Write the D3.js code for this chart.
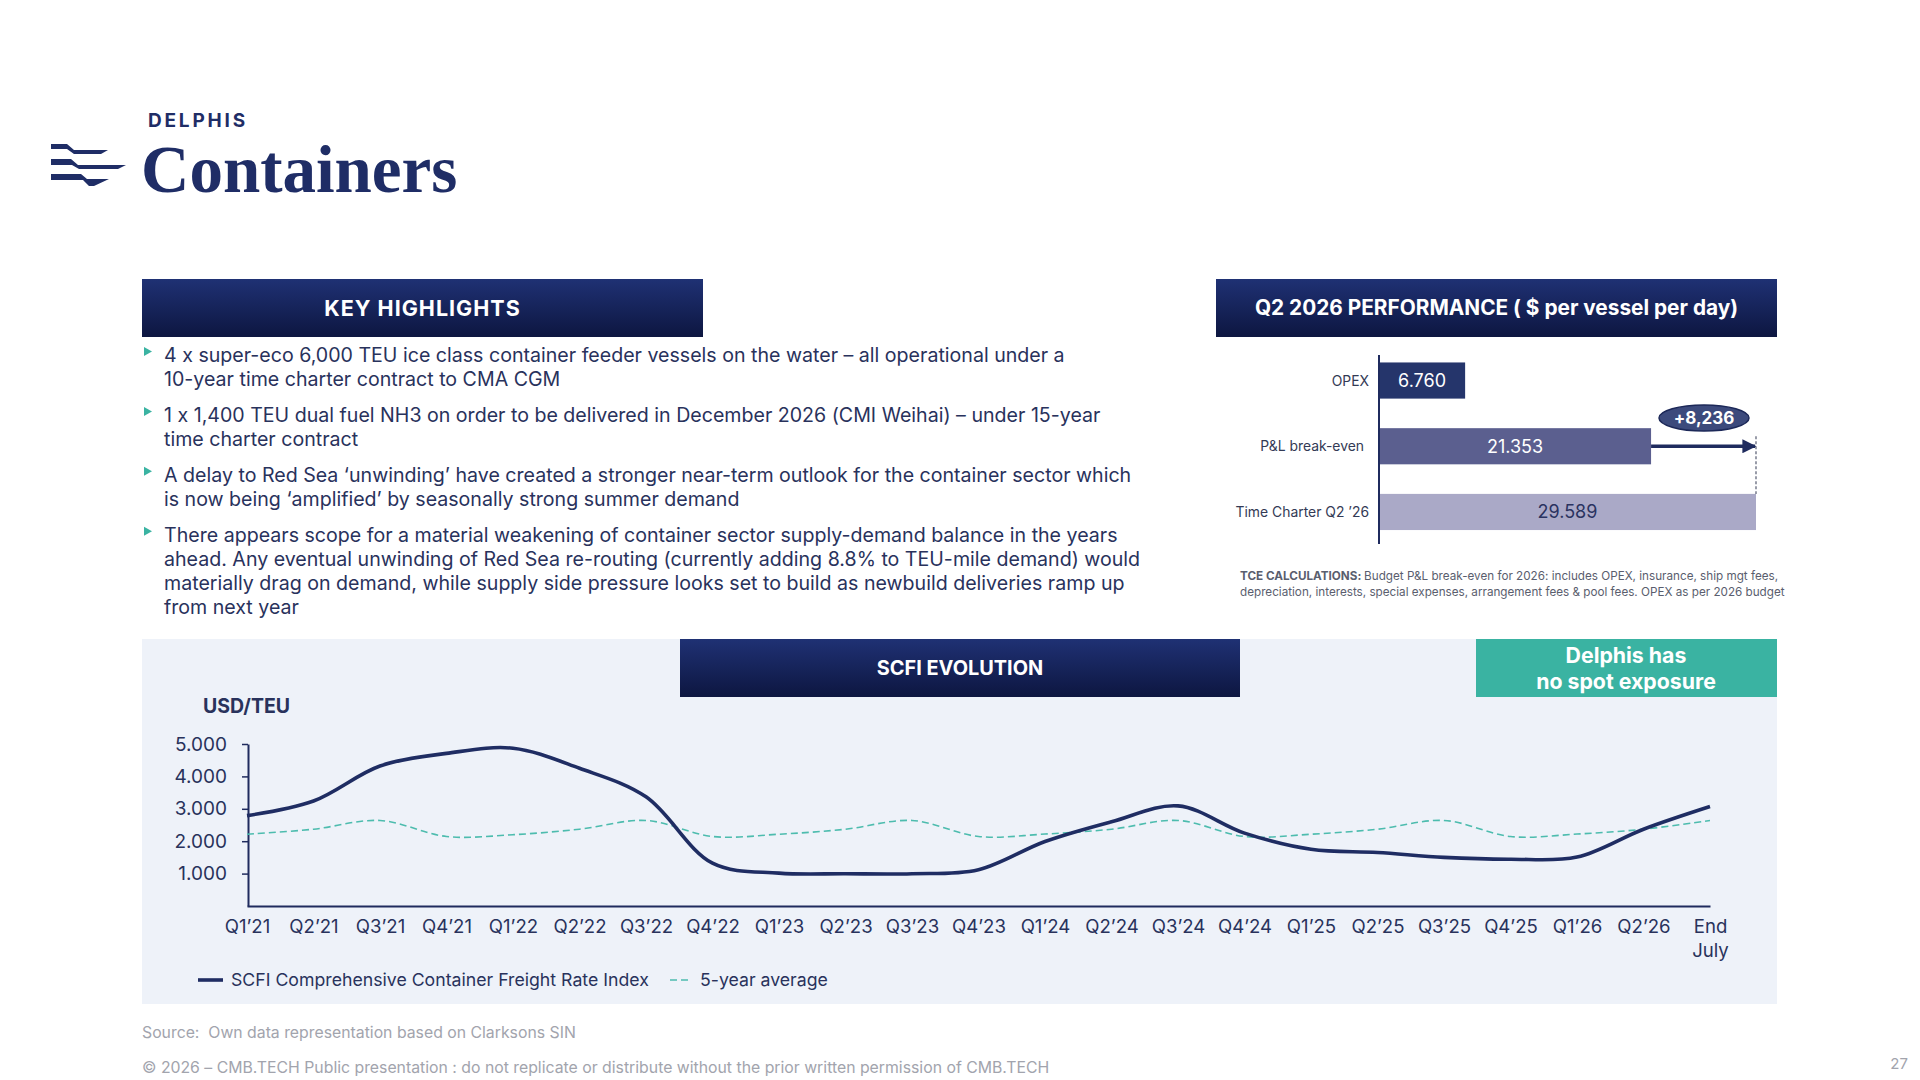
<!DOCTYPE html>
<html>
<head>
<meta charset="utf-8">
<script src="https://cdn.jsdelivr.net/npm/d3@7"></script>
<style>
  body { margin: 0; background: #fff; }
  svg { display: block; font-family: Inter, "Noto Sans", sans-serif; font-feature-settings: "calt" 0; }
  text { white-space: pre; }
</style>
</head>
<body>
<div id="slide"></div>
<script>
// ---- data ----
var quarters = ["Q1’21", "Q2’21", "Q3’21", "Q4’21", "Q1’22", "Q2’22", "Q3’22", "Q4’22",
  "Q1’23", "Q2’23", "Q3’23", "Q4’23", "Q1’24", "Q2’24", "Q3’24", "Q4’24",
  "Q1’25", "Q2’25", "Q3’25", "Q4’25", "Q1’26", "Q2’26", "End July"];
var scfi = [2790, 3240, 4320, 4710, 4870, 4250, 3370, 1320,
  1015, 995, 995, 1120, 1990, 2600, 3090, 2250,
  1750, 1650, 1500, 1445, 1510, 2370, 3070];
var fiveYearAvg = [2215, 2370, 2640, 2145, 2200, 2370, 2640, 2145,
  2215, 2370, 2640, 2145, 2220, 2370, 2640, 2145,
  2215, 2370, 2640, 2145, 2220, 2370, 2640];
var yTicks = [1000, 2000, 3000, 4000, 5000];

var perfCategories = ["OPEX", "P&L break-even", "Time Charter Q2 ’26"];
var perfValues = [6760, 21353, 29589];

var highlights = [
  ["4 x super-eco 6,000 TEU ice class container feeder vessels on the water – all operational under a",
   "10-year time charter contract to CMA CGM"],
  ["1 x 1,400 TEU dual fuel NH3 on order to be delivered in December 2026 (CMI Weihai) – under 15-year",
   "time charter contract"],
  ["A delay to Red Sea ‘unwinding’ have created a stronger near-term outlook for the container sector which",
   "is now being ‘amplified’ by seasonally strong summer demand"],
  ["There appears scope for a material weakening of container sector supply-demand balance in the years",
   "ahead. Any eventual unwinding of Red Sea re-routing (currently adding 8.8% to TEU-mile demand) would",
   "materially drag on demand, while supply side pressure looks set to build as newbuild deliveries ramp up",
   "from next year"]
];

var navy = "#1f2b5e", textNavy = "#29325c", teal = "#3ab3a2";
var nf = d3.formatLocale({decimal: ",", thousands: ".", grouping: [3], currency: ["", ""]}).format(",.0f");

var svg = d3.select("#slide").append("svg")
  .attr("width", 1920).attr("height", 1080);

var defs = svg.append("defs");
var grad = defs.append("linearGradient").attr("id", "bar-grad")
  .attr("x1", 0).attr("y1", 0).attr("x2", 0).attr("y2", 1);
grad.append("stop").attr("offset", "0%").attr("stop-color", "#1f3174");
grad.append("stop").attr("offset", "100%").attr("stop-color", "#0d1640");
defs.append("marker").attr("id", "arrowhead")
  .attr("viewBox", "0 0 10 10").attr("refX", 9).attr("refY", 5)
  .attr("markerWidth", 4).attr("markerHeight", 4).attr("orient", "auto")
  .append("path").attr("d", "M0,0L10,5L0,10Z").attr("fill", navy);

// ---- logo ----
var logo = svg.append("g").attr("fill", "#1f2d66");
logo.append("path").attr("d", "M51,144H67L74,150H108L101,154H74L67,149H51Z");
logo.append("path").attr("d", "M51,159H71L78,165H126L118,169H79L72,165H51Z");
logo.append("path").attr("d", "M51,174H81L87,179H109L94,186H89L83,180H51Z");
svg.append("text").attr("x", 148).attr("y", 127)
  .attr("font-size", 19).attr("font-weight", 700).attr("letter-spacing", 2.8)
  .attr("fill", "#1f2d66").text("DELPHIS");
svg.append("text").attr("x", 141).attr("y", 192)
  .attr("font-family", "'Liberation Serif', 'DejaVu Serif', serif")
  .attr("font-size", 67).attr("font-weight", 700)
  .attr("fill", "#1f2d66").text("Containers");

// ---- title bars ----
function titleBar(x, y, w, h, label, size, spacing) {
  svg.append("rect").attr("x", x).attr("y", y).attr("width", w).attr("height", h)
    .attr("fill", "url(#bar-grad)");
  svg.append("text").attr("x", x + w / 2).attr("y", y + h / 2)
    .attr("text-anchor", "middle").attr("dy", "0.36em")
    .attr("font-size", size).attr("font-weight", 700).attr("fill", "#fff")
    .attr("letter-spacing", spacing || 0)
    .text(label);
}
titleBar(142, 279, 561, 58, "KEY HIGHLIGHTS", 21.5, 1);
titleBar(1216, 279, 561, 58, "Q2 2026 PERFORMANCE ( $ per vessel per day)", 20.8);

// ---- key highlights ----
var lineY = 355;
highlights.forEach(function(lines) {
  svg.append("path")
    .attr("d", "M144," + (lineY - 8) + "L152," + (lineY - 3.5) + "L144," + (lineY + 1) + "Z")
    .attr("fill", teal);
  lines.forEach(function(l) {
    svg.append("text").attr("x", 164).attr("y", lineY).attr("dy", "0.35em")
      .attr("font-size", 19.6).attr("fill", textNavy).text(l);
    lineY += 24.2;
  });
  lineY += 11.5;
});

// ---- performance bars ----
var px = d3.scaleLinear().domain([0, d3.max(perfValues)]).range([1379, 1756]);
var py = d3.scaleBand().domain(perfCategories).range([348, 544.5])
  .paddingInner(0.45).paddingOuter(0.22);
var barColors = ["#25356b", "#5b5f8f", "#aaa9c7"];
var textColors = ["#fff", "#fff", "#2a3360"];

svg.selectAll(".pbar").data(perfValues).enter().append("rect")
  .attr("x", px(0))
  .attr("y", function(d, i) { return py(perfCategories[i]); })
  .attr("width", function(d) { return px(d) - px(0); })
  .attr("height", py.bandwidth())
  .attr("fill", function(d, i) { return barColors[i]; });
svg.selectAll(".pval").data(perfValues).enter().append("text")
  .attr("x", function(d) { return (px(0) + px(d)) / 2; })
  .attr("y", function(d, i) { return py(perfCategories[i]) + py.bandwidth() / 2; })
  .attr("dy", "0.36em").attr("text-anchor", "middle")
  .attr("font-size", 18).attr("fill", function(d, i) { return textColors[i]; })
  .text(function(d) { return nf(d); });
svg.selectAll(".pcat").data(perfCategories).enter().append("text")
  .attr("x", function(d, i) { return i === 1 ? 1364 : 1369; })
  .attr("y", function(d) { return py(d) + py.bandwidth() / 2; })
  .attr("dy", "0.36em").attr("text-anchor", "end")
  .attr("font-size", 13.9).attr("fill", "#333a55")
  .text(function(d) { return d; });
svg.append("line").attr("x1", 1379).attr("x2", 1379).attr("y1", 355).attr("y2", 544)
  .attr("stroke", navy).attr("stroke-width", 2);

// gap arrow from break-even to time charter
var yBE = py(perfCategories[1]) + py.bandwidth() / 2;
svg.append("line")
  .attr("x1", px(perfValues[2])).attr("x2", px(perfValues[2]))
  .attr("y1", yBE - 10).attr("y2", py(perfCategories[2]))
  .attr("stroke", "#555a70").attr("stroke-width", 1.2).attr("stroke-dasharray", "3,2");
svg.append("line")
  .attr("x1", px(perfValues[1])).attr("x2", px(perfValues[2]) - 1)
  .attr("y1", yBE).attr("y2", yBE)
  .attr("stroke", navy).attr("stroke-width", 3.5).attr("marker-end", "url(#arrowhead)");
var ex = 1704, ey = 418;
svg.append("ellipse").attr("cx", ex).attr("cy", ey).attr("rx", 45).attr("ry", 13)
  .attr("fill", "#3c4a7c").attr("stroke", "#1c2858").attr("stroke-width", 1.5);
svg.append("text").attr("x", ex).attr("y", ey).attr("dy", "0.36em")
  .attr("text-anchor", "middle").attr("font-size", 17).attr("font-weight", 700)
  .attr("fill", "#fff").text("+" + d3.format(",")(perfValues[2] - perfValues[1]));

var note = svg.append("text").attr("x", 1240).attr("y", 580)
  .attr("font-size", 11.7).attr("fill", "#5a5e6e");
note.append("tspan").attr("font-weight", 700).text("TCE CALCULATIONS: ");
note.append("tspan").text("Budget P&L break-even for 2026: includes OPEX, insurance, ship mgt fees,");
svg.append("text").attr("x", 1240).attr("y", 596)
  .attr("font-size", 11.7).attr("fill", "#5a5e6e")
  .text("depreciation, interests, special expenses, arrangement fees & pool fees. OPEX as per 2026 budget");

// ---- SCFI panel ----
svg.append("rect").attr("x", 142).attr("y", 639).attr("width", 1635).attr("height", 365)
  .attr("fill", "#eef2f9");
titleBar(680, 639, 560, 58, "SCFI EVOLUTION", 19.9);
svg.append("rect").attr("x", 1476).attr("y", 639).attr("width", 301).attr("height", 58)
  .attr("fill", teal);
svg.append("text").attr("x", 1626).attr("y", 655).attr("dy", "0.36em")
  .attr("text-anchor", "middle").attr("font-size", 21.3).attr("font-weight", 700)
  .attr("fill", "#fff").text("Delphis has");
svg.append("text").attr("x", 1626).attr("y", 681).attr("dy", "0.36em")
  .attr("text-anchor", "middle").attr("font-size", 21.3).attr("font-weight", 700)
  .attr("fill", "#fff").text("no spot exposure");

svg.append("text").attr("x", 203).attr("y", 706).attr("dy", "0.36em")
  .attr("font-size", 19.5).attr("font-weight", 700).attr("fill", textNavy).text("USD/TEU");

var x = d3.scalePoint().domain(quarters).range([247, 1710]);
var y = d3.scaleLinear().domain([0, 5000]).range([906, 744]);

var xAxis = svg.append("g").attr("transform", "translate(0,906)")
  .call(d3.axisBottom(x).tickSize(0).tickPadding(14));
xAxis.select(".domain").attr("stroke", navy).attr("stroke-width", 2);
xAxis.selectAll("text").attr("font-size", 18.6).attr("fill", textNavy)
  .attr("font-family", "Inter, sans-serif")
  .each(function(d) {
    if (d === "End July") {
      var t = d3.select(this).text(null);
      t.append("tspan").attr("x", 0).text("End");
      t.append("tspan").attr("x", 0).attr("dy", "1.3em").text("July");
    }
  });

var yAxis = svg.append("g").attr("transform", "translate(248,0)")
  .call(d3.axisLeft(y).tickValues(yTicks).tickFormat(nf).tickSize(6).tickSizeOuter(0).tickPadding(15));
yAxis.select(".domain").attr("stroke", navy).attr("stroke-width", 2);
yAxis.selectAll(".tick line").attr("stroke", navy).attr("stroke-width", 1.5);
yAxis.selectAll("text").attr("font-size", 19).attr("fill", textNavy)
  .attr("font-family", "Inter, sans-serif");

var avgLine = d3.line()
  .x(function(d, i) { return x(quarters[i]); })
  .y(function(d) { return y(d); })
  .curve(d3.curveCatmullRom.alpha(0.5));

svg.append("path").datum(fiveYearAvg).attr("d", avgLine)
  .attr("fill", "none").attr("stroke", "#4dbcae").attr("stroke-width", 1.6)
  .attr("stroke-dasharray", "7,4");
svg.append("path").datum(scfi).attr("d", avgLine)
  .attr("fill", "none").attr("stroke", "#1f2d63").attr("stroke-width", 3.6)
  .attr("stroke-linejoin", "round");

// legend
svg.append("line").attr("x1", 198).attr("x2", 223).attr("y1", 980).attr("y2", 980)
  .attr("stroke", "#1f2d63").attr("stroke-width", 3.6);
svg.append("text").attr("x", 231).attr("y", 980).attr("dy", "0.36em")
  .attr("font-size", 17.7).attr("fill", textNavy)
  .text("SCFI Comprehensive Container Freight Rate Index");
svg.append("line").attr("x1", 670).attr("x2", 690).attr("y1", 980).attr("y2", 980)
  .attr("stroke", "#4dbcae").attr("stroke-width", 1.6).attr("stroke-dasharray", "7,4");
svg.append("text").attr("x", 700).attr("y", 980).attr("dy", "0.36em")
  .attr("font-size", 17.7).attr("fill", textNavy).text("5-year average");

// ---- footer ----
svg.append("text").attr("x", 142).attr("y", 1032).attr("dy", "0.36em")
  .attr("font-size", 15.8).attr("fill", "#a2a4ad")
  .text("Source:  Own data representation based on Clarksons SIN");
svg.append("text").attr("x", 142).attr("y", 1067).attr("dy", "0.36em")
  .attr("font-size", 15.8).attr("fill", "#a2a4ad")
  .text("© 2026 – CMB.TECH Public presentation : do not replicate or distribute without the prior written permission of CMB.TECH");
svg.append("text").attr("x", 1908).attr("y", 1064).attr("dy", "0.36em")
  .attr("text-anchor", "end").attr("font-size", 15).attr("fill", "#a2a4ad").text("27");
</script>
</body>
</html>
